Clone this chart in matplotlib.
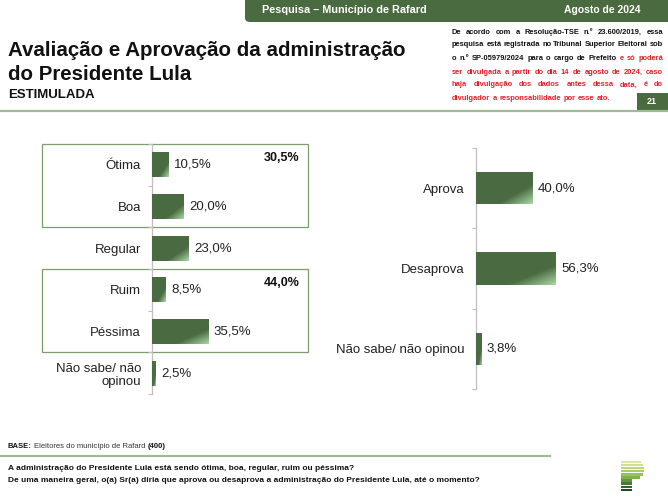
import numpy as np
import matplotlib
matplotlib.use("Agg")
import matplotlib.pyplot as plt
from matplotlib.patches import Rectangle, FancyBboxPatch
from matplotlib.colors import LinearSegmentedColormap
from matplotlib import font_manager

# data
aval_labels = ['Ótima', 'Boa', 'Regular', 'Ruim', 'Péssima', 'Não sabe/ não\nopinou']
aval_values = [10.5, 20.0, 23.0, 8.5, 35.5, 2.5]
aprov_labels = ['Aprova', 'Desaprova', 'Não sabe/ não opinou']
aprov_values = [40.0, 56.3, 3.8]
group_totals = ['30,5%', '44,0%']

W, H = 668, 500
DARK = '#4a6b42'
LIGHT = '#a9d6a2'
HEADER_GREEN = '#4a6a3f'
LINE_GREEN = '#a3b894'
RED = '#e3202b'

names = {f.name for f in font_manager.fontManager.ttflist}
narrow = ['Liberation Sans Narrow', 'Liberation Sans'] if 'Liberation Sans Narrow' in names else ['Liberation Sans']
plt.rcParams['font.family'] = ['Liberation Sans', 'DejaVu Sans']

fig = plt.figure(figsize=(W / 100, H / 100), dpi=100)
fig.patch.set_facecolor('white')


def fx(x):
    return x / W


def fy(y):
    return 1 - y / H


grad_cmap = LinearSegmentedColormap.from_list('bar', [(0, DARK), (0.7, DARK), (1, LIGHT)])
u, v = np.meshgrid(np.linspace(0, 1, 60), np.linspace(0, 1, 30))
grad = (u + v) / 2


def fmt(v):
    return ('%.1f%%' % v).replace('.', ',')


def bar_panel(ax, labels, values, height):
    y = np.arange(len(values))
    bars = ax.barh(y, values, height=height, color=DARK, edgecolor='none')
    for b in bars:
        x0, y0 = b.get_x(), b.get_y()
        im = ax.imshow(grad, cmap=grad_cmap, vmin=0, vmax=1, aspect='auto',
                       extent=(x0, x0 + b.get_width(), y0 + b.get_height(), y0),
                       interpolation='bilinear', zorder=3)
        im.set_clip_path(b)
    for yi, val in zip(y, values):
        ax.annotate(fmt(val), (val, yi), xytext=(4, 0), textcoords='offset points',
                    va='center', ha='left', fontsize=9.5, color='#222222')
    ax.set_xlim(0, 100)
    ax.set_ylim(len(values) - 0.5, -0.5)
    ax.set_yticks(y)
    ax.set_yticklabels(labels, fontsize=9.5, color='#222222', linespacing=1.15)
    ax.tick_params(axis='y', which='major', length=0, pad=8)
    ax.set_yticks(np.arange(len(values) + 1) - 0.5, minor=True)
    ax.tick_params(axis='y', which='minor', length=3, color='#bfbfbf', width=0.8)
    ax.set_xticks([])
    for s in ['top', 'right', 'bottom']:
        ax.spines[s].set_visible(False)
    ax.spines['left'].set_color('#bfbfbf')
    ax.spines['left'].set_linewidth(0.9)
    ax.patch.set_alpha(0)


# left chart
axl = fig.add_axes([fx(152), fy(394), 158 / W, 250 / H])
bar_panel(axl, aval_labels, aval_values, 0.6)
for (y0, y1), tot in zip([(-0.5, 1.5), (2.5, 4.5)], group_totals):
    axl.add_patch(Rectangle((-69.6, y0), 98.7 + 69.6, y1 - y0, fill=False,
                            edgecolor='#7e9c6e', linewidth=0.9, clip_on=False, zorder=1))
    axl.annotate(tot, (98.7, y0), xytext=(-6, -10), textcoords='offset points',
                 ha='right', va='center', fontsize=9, fontweight='bold', color='#111111')

# right chart
axr = fig.add_axes([fx(476), fy(389), 141 / W, 241 / H])
bar_panel(axr, aprov_labels, aprov_values, 0.4)

# header banner
fig.patches.append(FancyBboxPatch((fx(245), fy(22)), fx(668) - fx(245) + 0.02, 22 / H + 0.02,
                                  boxstyle='round,pad=0,rounding_size=0.008',
                                  transform=fig.transFigure, facecolor=HEADER_GREEN,
                                  edgecolor='none', zorder=0))
fig.text(fx(262), fy(10), 'Pesquisa – Município de Rafard', family=narrow, fontsize=7.8,
         fontweight='bold', color='white', va='center')
fig.text(fx(640), fy(10), 'Agosto de 2024', family=narrow, fontsize=7.5,
         fontweight='bold', color='white', va='center', ha='right')

# title
fig.text(fx(8), fy(50), 'Avaliação e Aprovação da administração', fontsize=14.8,
         fontweight='bold', color='#111111', va='center')
fig.text(fx(8), fy(75), 'do Presidente Lula', fontsize=14.8,
         fontweight='bold', color='#111111', va='center')
fig.text(fx(8), fy(95), 'ESTIMULADA', fontsize=9.5, fontweight='bold', color='#111111', va='center')

# disclaimer, justified word by word
disc = [
    [('De acordo com a Resolução-TSE n.º 23.600/2019, essa', 'k')],
    [('pesquisa está registrada no Tribunal Superior Eleitoral sob', 'k')],
    [('o n.º SP-05979/2024 para o cargo de Prefeito', 'k'), ('e só poderá', 'r')],
    [('ser divulgada a partir do dia 14 de agosto de 2024, caso', 'r')],
    [('haja divulgação dos dados antes dessa data, é do', 'r')],
    [('divulgador a responsabilidade por esse ato.', 'r')],
]
disc_y = [32, 45, 58, 72, 85, 98]
x_left, x_right = 452, 663
renderer = fig.canvas.get_renderer()
for i, (line, yy) in enumerate(zip(disc, disc_y)):
    words = []
    for seg, c in line:
        for w in seg.split():
            words.append((w, '#111111' if c == 'k' else RED))
    texts = [fig.text(0, fy(yy), w, family=narrow, fontsize=5.45, fontweight='bold',
                      color=c, va='center') for w, c in words]
    widths = [t.get_window_extent(renderer).width for t in texts]
    if i < len(disc) - 1:
        gap = (x_right - x_left - sum(widths)) / (len(words) - 1)
    else:
        gap = 2.4
    x = x_left
    for t, wd in zip(texts, widths):
        t.set_x(fx(x))
        x += wd + gap

# page number
fig.patches.append(Rectangle((fx(637), fy(110)), fx(31), 17 / H, transform=fig.transFigure,
                             facecolor=HEADER_GREEN, edgecolor='none'))
fig.text(fx(652), fy(101), '21', fontsize=6.5, fontweight='bold', color='white',
         ha='center', va='center')

# rules
fig.add_artist(plt.Line2D([0, 1], [fy(111), fy(111)], color=LINE_GREEN, linewidth=1.6))
fig.add_artist(plt.Line2D([0, fx(550)], [fy(456), fy(456)], color=LINE_GREEN, linewidth=1.6))

# footer
t = fig.text(fx(8), fy(447), 'BASE:', family=narrow, fontsize=5.5, fontweight='bold', color='#111111', va='center')
bx = 8 + t.get_window_extent(renderer).width
t2 = fig.text(fx(bx + 2), fy(447), 'Eleitores do município de Rafard', family=narrow, fontsize=5.5,
              color='#333333', va='center')
bx2 = bx + 2 + t2.get_window_extent(renderer).width
fig.text(fx(bx2 + 2), fy(447), '(400)', family=narrow, fontsize=5.5, fontweight='bold', color='#111111', va='center')

fig.text(fx(8), fy(468), 'A administração do Presidente Lula está sendo ótima, boa, regular, ruim ou péssima?',
         family=narrow, fontsize=6.0, fontweight='bold', color='#111111', va='center')
fig.text(fx(8), fy(480), 'De uma maneira geral, o(a) Sr(a) diria que aprova ou desaprova a administração do Presidente Lula, até o momento?',
         family=narrow, fontsize=6.0, fontweight='bold', color='#111111', va='center')

# logo
stripe_len = [20, 22, 23, 23, 22, 19, 11, 11, 11, 11]
stripe_col = ['#dbe99f', '#cde28c', '#bcd97a', '#a9cf6a', '#95c25c', '#7fb152', '#5f9444', '#477a38', '#33632e', '#1f4a24']
for k, (ln, col) in enumerate(zip(stripe_len, stripe_col)):
    fig.patches.append(Rectangle((fx(621), fy(460 + 3.1 * (k + 1))), ln / W, 2.4 / H,
                                 transform=fig.transFigure, facecolor=col, edgecolor='none'))

fig.savefig('out.png', dpi=100, facecolor='white')
